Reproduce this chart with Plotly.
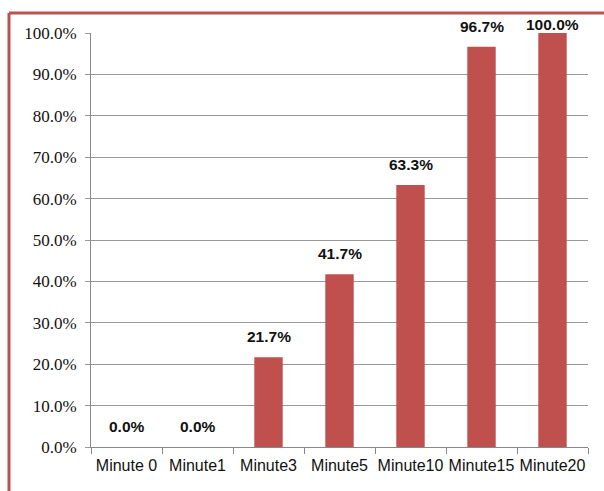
import plotly.graph_objects as go

categories = ["Minute 0", "Minute1", "Minute3", "Minute5", "Minute10", "Minute15", "Minute20"]
values = [0.0, 0.0, 21.7, 41.7, 63.3, 96.7, 100.0]
tick_vals = [0, 10, 20, 30, 40, 50, 60, 70, 80, 90, 100]
tick_text = [f"{v:.1f}%" for v in tick_vals]
labels = [f"{v:.1f}%" for v in values]

W, H = 604, 491
L, R, T, B = 91, 16, 33, 44
pw, ph = W - L - R, H - T - B

fig = go.Figure(go.Bar(
    x=categories, y=values,
    marker=dict(color="#c0504d", line=dict(width=0)),
    cliponaxis=False,
))

for c, v, t in zip(categories, values, labels):
    fig.add_annotation(
        x=c, y=min(v, 97.0), text=f"<b>{t}</b>", showarrow=False,
        yanchor="bottom", yshift=10,
        font=dict(family="Liberation Sans, Arial", size=15.5, color="#111111"),
    )

fig.update_layout(
    width=W, height=H,
    margin=dict(l=L, r=R, t=T, b=B, pad=0),
    paper_bgcolor="white", plot_bgcolor="white",
    bargap=0.6,
    showlegend=False,
)
fig.update_xaxes(
    type="category", showgrid=False, showline=True, linecolor="#888888", linewidth=1,
    ticks="outside", tickson="boundaries", ticklen=6, tickcolor="#888888",
    tickangle=0, automargin=False, ticklabelstandoff=4,
    tickfont=dict(family="Liberation Sans, Arial", size=16, color="#111111"),
)
fig.update_yaxes(
    range=[0, 100], tickvals=tick_vals, ticktext=tick_text,
    showgrid=True, gridcolor="#999999", gridwidth=1,
    showline=True, linecolor="#888888", linewidth=1,
    ticks="outside", ticklen=5, tickcolor="#999999",
    ticklabelstandoff=5, automargin=False,
    tickfont=dict(family="Liberation Serif, Times New Roman", size=17, color="#111111"),
    zeroline=False,
)

x0 = (9 - L) / pw
y1 = 1 + (T - 13) / ph
fig.add_shape(type="line", xref="paper", yref="paper", x0=x0, x1=x0, y0=-B / ph - 0.01, y1=y1,
              line=dict(color="#b85450", width=3))
fig.add_shape(type="line", xref="paper", yref="paper", x0=x0, x1=1 + R / pw + 0.01, y0=y1, y1=y1,
              line=dict(color="#b85450", width=3))

fig.write_html("out.html")
